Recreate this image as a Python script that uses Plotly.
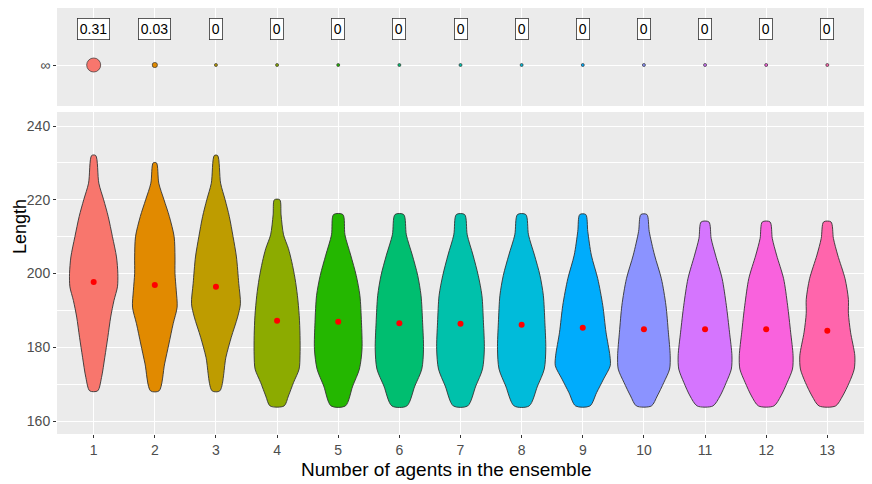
import plotly.graph_objects as go
import math

# ensemble sizes (x categories)
agents = list(range(1, 14))

# share of runs that never finished (top "∞" panel)
inf_share = [0.31, 0.03, 0, 0, 0, 0, 0, 0, 0, 0, 0, 0, 0]

# mean length (red dots)
mean_length = [197.7, 196.9, 196.4, 187.2, 186.9, 186.5, 186.4, 186.1, 185.3, 184.9, 184.9, 184.9, 184.5]

# violin outlines: length levels and half-widths (in x units)
violin_y = [
    [168.2, 171.8, 177.3, 182.7, 188.2, 192.7, 196.4, 200, 204.5, 210, 215.5, 220, 224.5, 232],
    [168.2, 175.5, 180.9, 186.4, 190.9, 195.5, 200, 204.5, 210, 215.5, 220, 224.5, 230],
    [168.2, 177.3, 182.7, 188.2, 191.8, 197.3, 204.5, 210, 215.5, 220, 224.5, 232],
    [164.1, 166.8, 170.5, 174.1, 177.7, 183.2, 188.6, 194.1, 198.6, 203.2, 206.8, 210.5, 215.9, 220],
    [164.1, 169.5, 174.1, 179.5, 186.8, 194.1, 199.5, 205, 210.5, 216],
    [164.1, 169.5, 174.1, 179.5, 186.8, 194.1, 199.5, 205, 210.5, 216],
    [164.1, 169.5, 174.1, 179.5, 186.8, 194.1, 199.5, 205, 210.5, 216],
    [164.1, 169.5, 174.1, 179.5, 186.8, 194.1, 199.5, 205, 210.5, 216],
    [164.1, 167.7, 171.4, 175, 177.7, 184.1, 191.4, 198.6, 205, 211.4, 216],
    [164.1, 166.8, 170.5, 174.1, 177.7, 184.1, 191.4, 198.6, 205, 211.4, 216],
    [164.1, 166.8, 170.5, 174.1, 177.7, 184.1, 191.4, 198.6, 205, 209.5, 214],
    [164.1, 166.8, 170.5, 174.1, 177.7, 184.1, 191.4, 198.6, 205, 209.5, 214],
    [164.1, 166.8, 170.5, 174.1, 177.7, 184.1, 189.2, 193, 198.6, 205, 209.5, 214],
]
violin_hw = [
    [0.065, 0.128, 0.182, 0.231, 0.278, 0.332, 0.389, 0.395, 0.373, 0.307, 0.237, 0.163, 0.084, 0.033],
    [0.07, 0.16, 0.23, 0.30, 0.365, 0.35, 0.33, 0.33, 0.316, 0.237, 0.15, 0.065, 0.027],
    [0.063, 0.163, 0.25, 0.354, 0.40, 0.373, 0.335, 0.28, 0.218, 0.15, 0.076, 0.027],
    [0.114, 0.185, 0.27, 0.36, 0.375, 0.375, 0.362, 0.332, 0.294, 0.24, 0.185, 0.106, 0.065, 0.044],
    [0.117, 0.237, 0.346, 0.389, 0.38, 0.354, 0.294, 0.204, 0.11, 0.076],
    [0.122, 0.253, 0.367, 0.395, 0.38, 0.354, 0.30, 0.212, 0.114, 0.071],
    [0.117, 0.25, 0.36, 0.39, 0.375, 0.35, 0.29, 0.205, 0.11, 0.068],
    [0.122, 0.26, 0.37, 0.395, 0.38, 0.355, 0.30, 0.21, 0.112, 0.068],
    [0.117, 0.226, 0.34, 0.449, 0.444, 0.38, 0.327, 0.245, 0.14, 0.082, 0.049],
    [0.122, 0.218, 0.327, 0.42, 0.43, 0.40, 0.36, 0.286, 0.174, 0.087, 0.049],
    [0.128, 0.245, 0.348, 0.43, 0.44, 0.40, 0.348, 0.28, 0.171, 0.10, 0.063],
    [0.125, 0.24, 0.345, 0.43, 0.44, 0.40, 0.35, 0.285, 0.17, 0.10, 0.063],
    [0.135, 0.25, 0.36, 0.44, 0.45, 0.38, 0.345, 0.345, 0.29, 0.17, 0.10, 0.06],
]

# ggplot2 default hue palette for 13 groups
colors = ['#F8766D', '#E18A00', '#BE9C00', '#8CAB00', '#24B700', '#00BE70', '#00C1AB',
          '#00BBDA', '#00ACFC', '#8B93FF', '#D575FE', '#F962DD', '#FF65AC']

fig = go.Figure()

# violins, drawn as closed outlines in the lower panel
for k, ys, hw, c in zip(agents, violin_y, violin_hw, colors):
    xs = [k + w for w in hw] + [k - w for w in reversed(hw)]
    yy = ys + list(reversed(ys))
    fig.add_trace(go.Scatter(
        x=xs + [xs[0]], y=yy + [yy[0]], mode='lines', fill='toself',
        fillcolor=c, line=dict(color='#333333', width=0.9, shape='spline', smoothing=0.8),
        hoverinfo='skip', showlegend=False, xaxis='x', yaxis='y'))

# mean points
fig.add_trace(go.Scatter(
    x=agents, y=mean_length, mode='markers',
    marker=dict(color='red', size=6), showlegend=False, xaxis='x', yaxis='y'))

# top panel: circles sized by share
inf_level = [1] * len(agents)
sizes = [math.sqrt(9 + 603 * v) for v in inf_share]
fig.add_trace(go.Scatter(
    x=agents, y=inf_level, mode='markers',
    marker=dict(color=colors, size=sizes, opacity=1, line=dict(color='#333333', width=0.7)),
    showlegend=False, xaxis='x2', yaxis='y2'))

for k, v in zip(agents, inf_share):
    fig.add_annotation(x=k, y=1.528, xref='x2', yref='y2', text=f"{v:g}", showarrow=False,
                       font=dict(size=14, color='black'), bgcolor='white',
                       bordercolor='#333333', borderwidth=0.8, borderpad=2)

axis_common = dict(showgrid=True, gridcolor='white', gridwidth=1.1, zeroline=False,
                   showline=False, tickfont=dict(size=14, color='#4D4D4D'),
                   ticks='outside', ticklen=3, tickcolor='#333333', tickwidth=1)

fig.update_layout(
    width=864, height=476,
    margin=dict(l=49, r=8, t=0, b=50),
    paper_bgcolor='white', plot_bgcolor='#EBEBEB',
    font=dict(family='Liberation Sans, Arial, sans-serif'),
    xaxis=dict(range=[0.4, 13.6], tickmode='array', tickvals=agents,
               ticktext=[str(a) for a in agents], anchor='y', **axis_common),
    xaxis2=dict(range=[0.4, 13.6], tickmode='array', tickvals=agents, showticklabels=False,
                ticks='', matches='x', anchor='y2', showgrid=True, gridcolor='white',
                gridwidth=1.1, zeroline=False),
    yaxis=dict(domain=[0, 0.7559], range=[156.5, 243.8], tickmode='linear', tick0=160, dtick=20,
               minor=dict(dtick=10, showgrid=True, gridcolor='white', gridwidth=0.5),
               anchor='x', **axis_common),
    yaxis2=dict(domain=[0.77, 1], range=[0.4, 1.835], tickmode='array', tickvals=[1],
                ticktext=['∞'], anchor='x2', **axis_common),
)

# axis titles
fig.add_annotation(x=0.482, y=-0.0845, xref='paper', yref='paper', text='Number of agents in the ensemble',
                   showarrow=False, font=dict(size=19, color='black'), xanchor='center', yanchor='middle')
fig.add_annotation(x=-0.0458, y=0.486, xref='paper', yref='paper', text='Length', textangle=-90,
                   showarrow=False, font=dict(size=18, color='black'), xanchor='center', yanchor='middle')

fig.write_html("out.html")
